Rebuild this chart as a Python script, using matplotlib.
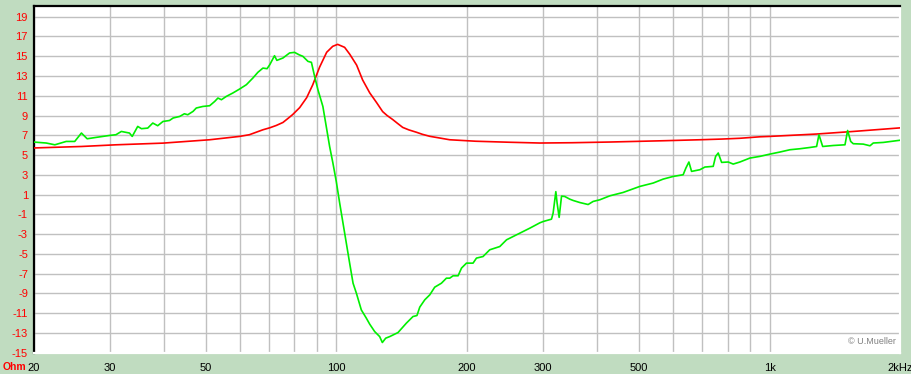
import matplotlib
matplotlib.use("Agg")
import matplotlib.pyplot as plt

# impedance curve (red)
red_freq = [20, 25.8, 31, 39.8, 51, 59.8, 63, 67.7, 70.2, 72.7, 75.3, 77.3, 79.3, 82.3, 85.4,
            88.2, 91.5, 95.0, 98.1, 100.7, 104.5, 107.4, 111.4, 115.0, 119.4, 123.9, 127.9,
            131, 134.9, 138.5, 142.3, 147, 153.3, 158, 164.3, 172, 182.7, 210, 250, 295,
            350, 427, 568, 690, 775, 854, 950, 1002, 1284, 1560, 2000]
red_val = [5.72, 5.87, 6.04, 6.21, 6.55, 6.89, 7.06, 7.56, 7.76, 8.0, 8.3, 8.7, 9.1, 9.8, 10.8,
           12.1, 13.9, 15.4, 16.0, 16.2, 15.9, 15.2, 14.1, 12.6, 11.3, 10.3, 9.4,
           9.0, 8.6, 8.2, 7.8, 7.55, 7.3, 7.1, 6.9, 6.75, 6.55, 6.4, 6.3, 6.22,
           6.25, 6.32, 6.45, 6.55, 6.62, 6.7, 6.85, 6.89, 7.13, 7.39, 7.75]

# second curve (green)
green_freq = [20, 21.4, 22.4, 23.8, 24.9, 25.8, 26.6, 27.9, 30.0, 31.0, 31.9, 33.3, 33.8,
              34.8, 35.5, 36.7, 37.7, 38.7, 39.8, 41.2, 42.0, 43.5, 44.6, 45.4, 46.7,
              47.5, 49.2, 51.0, 52.4, 53.3, 54.3, 55.7, 57.7, 59.8, 62.0, 64.2, 65.9,
              67.7, 69.2, 70.2, 72.0, 72.9, 75.3, 78.0, 80.1, 82.0, 83.7, 86.0, 87.6,
              89.1, 90.7, 93.1, 94.8, 96.5, 98.2, 100.0, 101.8, 103.6, 105.5, 107.4,
              109.3, 111.3, 114.2, 117.3, 119.4, 122.6, 125.9, 127.7, 130.0, 132.8,
              138.8, 145.1, 150.3, 153.5, 155.8, 160.0, 164.3, 168.7, 174.8, 179.5,
              182.7, 186.0, 191.0, 194.5, 199.7, 206.8, 210.6, 218.1, 226.0, 238.4,
              247.1, 265.2, 279.7, 295.0, 300.2, 313.8, 316.5, 321.1, 323.3, 326.8,
              331.0, 336.8, 345.9, 352.0, 364.8, 381.2, 391.5, 405.7, 427.9, 459.2,
              501.8, 538.6, 568.0, 599.1, 631.7, 641.0, 651.3, 660.6, 690.5, 709.2,
              741.1, 750.7, 761.2, 775.0, 802.7, 824.2, 854.1, 869.2, 900.8, 950.2,
              1002, 1057, 1114, 1175, 1239, 1284, 1300, 1326, 1403, 1493, 1514, 1539,
              1560, 1645, 1705, 1735, 1830, 1965, 2000]
green_val = [6.32, 6.22, 6.04, 6.38, 6.38, 7.23, 6.65, 6.79, 6.99, 7.06, 7.39, 7.23, 6.89,
             7.9, 7.67, 7.73, 8.24, 7.97, 8.4, 8.5, 8.75, 8.91, 9.18, 9.08, 9.42,
             9.76, 9.92, 9.99, 10.43, 10.77, 10.6, 10.93, 11.28, 11.68, 12.12, 12.8, 13.37,
             13.8, 13.74, 14.14, 15.05, 14.58, 14.82, 15.33, 15.39, 15.15, 14.99, 14.48, 14.38,
             12.96, 11.6, 9.92, 7.9, 5.87, 4.19, 2.3, 0.14, -1.88, -4.0, -6.0,
             -7.96, -9.0, -10.66, -11.5, -12.1, -12.85, -13.36, -13.96, -13.52, -13.36,
             -12.95, -12.0, -11.33, -11.23, -10.38, -9.64, -9.14, -8.36, -7.96, -7.45,
             -7.45, -7.21, -7.21, -6.43, -5.93, -5.93, -5.42, -5.26, -4.58, -4.25,
             -3.57, -2.9, -2.39, -1.85, -1.72, -1.48, -0.87, 1.3, 0.14, -1.3,
             0.85, 0.81, 0.54, 0.41, 0.2, 0.0, 0.31, 0.48, 0.88, 1.22,
             1.83, 2.17, 2.57, 2.84, 3.01, 3.69, 4.3, 3.35, 3.52, 3.79,
             3.86, 4.87, 5.21, 4.26, 4.3, 4.09, 4.3, 4.43, 4.7, 4.87,
             5.1, 5.31, 5.54, 5.64, 5.77, 5.87, 7.06, 5.87, 5.97, 6.04, 7.49, 6.38,
             6.15, 6.11, 5.94, 6.22, 6.28, 6.45, 6.5]

x_major = [20, 30, 50, 100, 200, 300, 500, 1000, 2000]
x_labels = ["20", "30", "50", "100", "200", "300", "500", "1k", "2kHz"]
x_minor = [40, 60, 70, 80, 90, 400, 600, 700, 800, 900]
y_ticks = list(range(-15, 20, 2))

bg = "#C0DCC0"
plt.rcParams['font.family'] = ['Liberation Sans', 'DejaVu Sans']

fig = plt.figure(figsize=(9.12, 3.74), dpi=100, facecolor=bg)
ax = fig.add_axes([33.5 / 912, 20.7 / 374, 866.5 / 912, 347.3 / 374])
ax.set_facecolor("white")

ax.plot(red_freq, red_val, color="#FF0000", lw=1.2, zorder=3)
ax.plot(green_freq, green_val, color="#00F000", lw=1.2, zorder=3)

ax.set_xscale("log")
ax.set_xlim(20, 2000)
ax.set_ylim(-15.05, 20.08)

ax.set_xticks(x_major)
ax.set_xticklabels(x_labels)
ax.set_xticks(x_minor, minor=True)
ax.xaxis.set_minor_formatter(matplotlib.ticker.NullFormatter())
ax.set_yticks(y_ticks)
ax.set_yticklabels([str(v) for v in y_ticks])

ax.tick_params(axis="both", which="both", length=0)
ax.tick_params(axis="x", labelsize=8, labelcolor="black", pad=7)
ax.tick_params(axis="y", labelsize=8, labelcolor="#FF0000", pad=4)

ax.grid(True, which="both", color="#C0C0C0", lw=1.0, zorder=0)
ax.set_axisbelow(True)

for side in ["left", "top"]:
    ax.spines[side].set_color("black")
    ax.spines[side].set_linewidth(1.6)
for side in ["right", "bottom"]:
    ax.spines[side].set_color("white")
    ax.spines[side].set_linewidth(1.6)

fig.text(26.5 / 912, 1 - 367 / 374, "Ohm", color="#FF0000", fontsize=7.5, fontweight="bold",
         ha="right", va="center")
ax.text(0.995, 0.02, "\u00a9 U.Mueller", transform=ax.transAxes, color="#808080",
        fontsize=6.5, ha="right", va="bottom")

fig.savefig("out.png", dpi=100, facecolor=bg)
